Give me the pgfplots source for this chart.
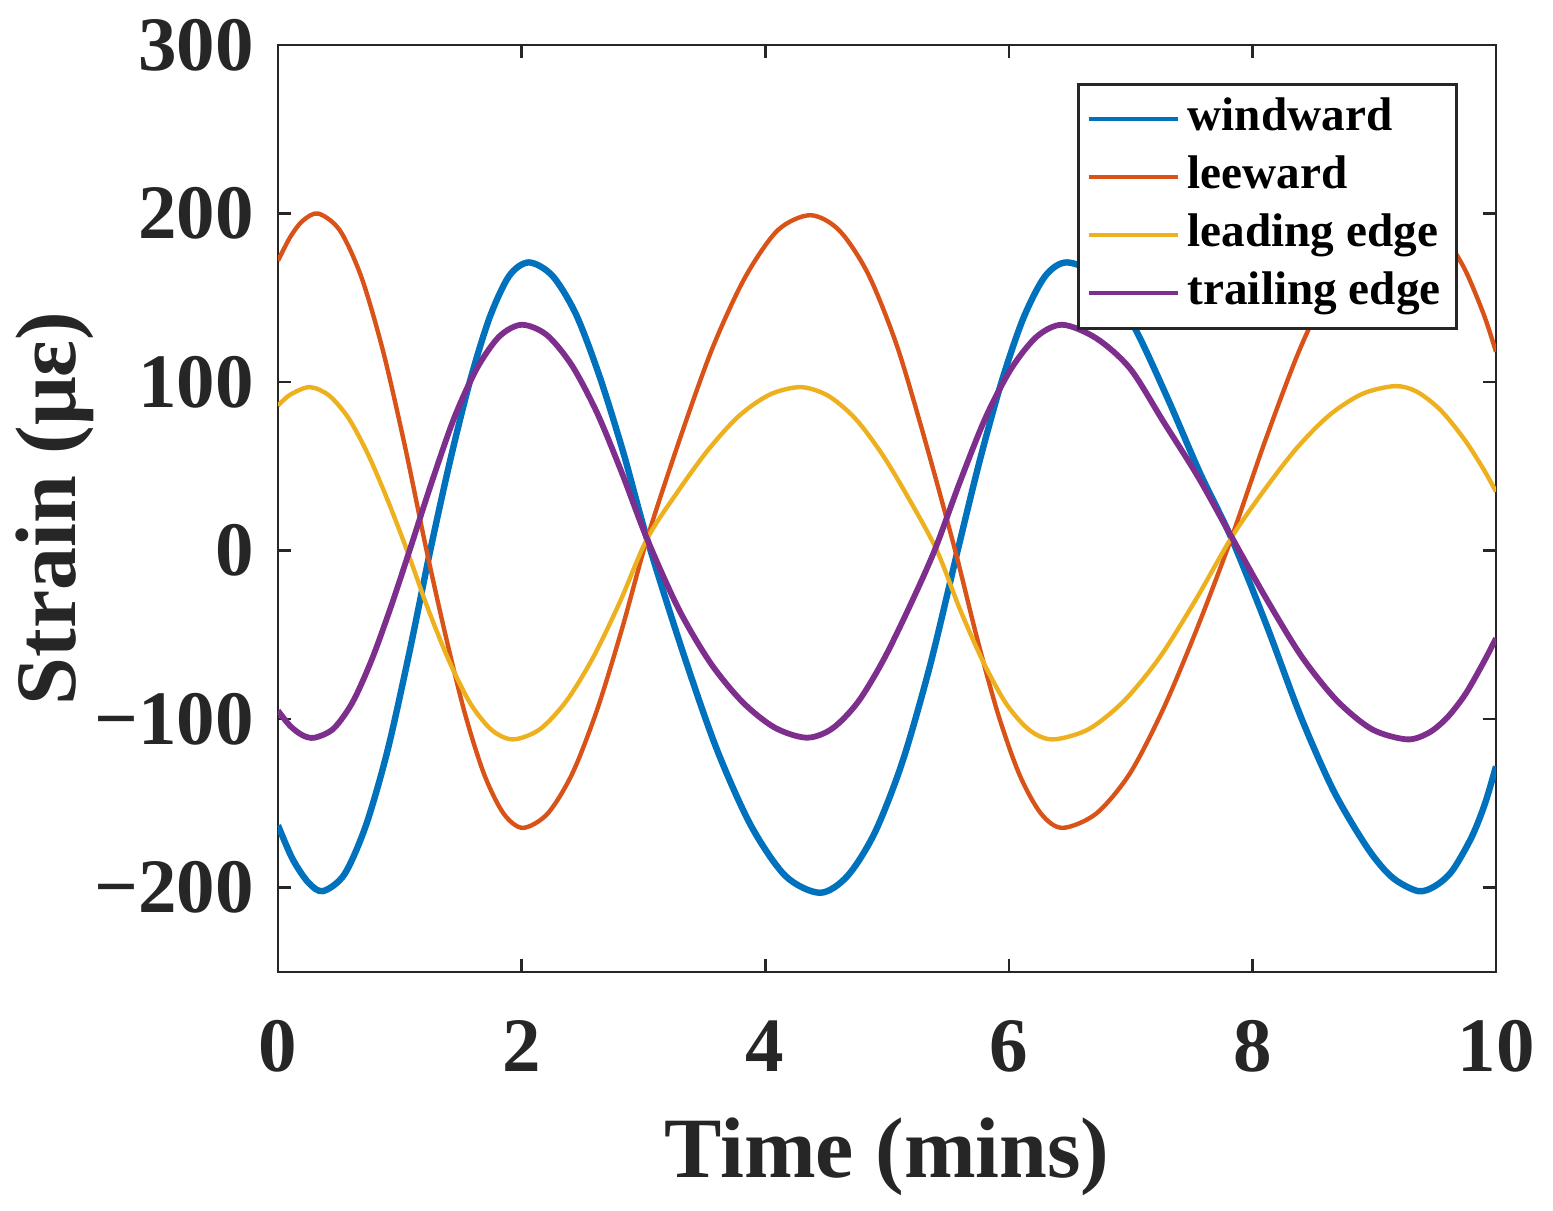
\documentclass[border=0pt]{standalone}
\usepackage{fontspec}
\setmainfont{Liberation Serif}
\usepackage{pgfplots}
\pgfplotsset{compat=1.18}
\definecolor{mblue}{rgb}{0,0.447,0.741}
\definecolor{morange}{rgb}{0.85,0.325,0.098}
\definecolor{myellow}{rgb}{0.929,0.694,0.125}
\definecolor{mpurple}{rgb}{0.494,0.184,0.556}
\definecolor{axgray}{rgb}{0.15,0.15,0.15}

\pgfplotstableread{
t v
0 -163
0.12 -183
0.25 -197
0.37 -202
0.546 -192
0.722 -163
0.898 -119
1.074 -62
1.25 0
1.412 53
1.574 100
1.736 138
1.898 163
2.06 171
2.254 163
2.448 140
2.642 103
2.836 58
3.03 7
3.314 -58
3.598 -117
3.882 -163
4.166 -193
4.45 -203
4.676 -193
4.902 -167
5.128 -125
5.354 -68
5.58 0
5.76 53
5.94 100
6.12 138
6.30 163
6.48 171
6.75 162
7.02 134
7.30 91
7.57 46
7.83 7
8.12 -45
8.40 -99
8.67 -143
8.95 -177
9.15 -194
9.36 -202
9.50 -199
9.64 -190
9.80 -170
9.91 -150
10 -128
}\windward

\pgfplotstableread{
t v
0 172
0.1 186
0.2 195.5
0.33 200
0.508 190
0.686 162
0.864 118
1.042 62
1.22 0
1.378 -51
1.536 -97
1.694 -133
1.852 -156
2.01 -164.5
2.214 -156
2.418 -132
2.622 -94
2.826 -46
3.03 7
3.298 66
3.566 120
3.834 162
4.102 190
4.37 199
4.608 190
4.846 164
5.084 121
5.322 63
5.56 0
5.736 -51
5.912 -97
6.088 -133
6.264 -156
6.44 -164.5
6.718 -156
6.996 -132
7.274 -93
7.552 -45
7.83 8
8.114 67
8.398 121
8.682 163
8.966 191
9.25 200
9.45 196
9.6 184
9.75 166
9.9 140
10 118
}\leeward

\pgfplotstableread{
t v
0 86
0.1 92.5
0.26 97
0.42 92
0.58 78.5
0.74 57
0.90 30
1.06 0
1.234 -35
1.408 -66
1.582 -91
1.756 -106.5
1.93 -112
2.15 -106
2.37 -89
2.59 -63
2.81 -30
3.03 7
3.282 35
3.534 60
3.786 80
4.038 92.6
4.29 97
4.514 92
4.738 78.5
4.962 57
5.186 30
5.41 0
5.60 -35
5.79 -66
5.98 -91
6.17 -106.5
6.36 -112
6.654 -106
6.948 -89
7.242 -63
7.536 -29
7.83 8
8.098 36
8.366 61
8.634 80.5
8.902 93
9.17 97.6
9.35 94.3
9.55 83
9.75 65
9.9 48
10 35
}\leading

\pgfplotstableread{
t v
0 -95
0.1 -104
0.2 -109.5
0.30 -111
0.456 -105.6
0.612 -90
0.768 -65
0.924 -34
1.08 0
1.264 41
1.448 79
1.632 108
1.816 127
2.0 134
2.206 128
2.412 110
2.618 82
2.824 46
3.03 7
3.292 -35
3.554 -67
3.816 -90
4.078 -105
4.34 -111
4.55 -105.6
4.76 -90
4.97 -65
5.18 -34
5.39 0
5.60 41
5.81 79
6.02 108
6.23 127
6.44 134
6.718 126
6.996 108
7.274 76
7.552 44
7.83 8
8.118 -29
8.406 -63
8.694 -89
8.982 -106
9.27 -112
9.45 -108
9.6 -99
9.75 -85
9.9 -66
10 -52
}\trailing

\begin{document}
\begin{tikzpicture}
\begin{axis}[
  scale only axis,
  width=609pt, height=463.5pt,
  xmin=0, xmax=10, ymin=-250, ymax=300,
  xtick={0,2,4,6,8,10},
  xticklabels={0,2,4,6,8,10},
  ytick={-200,-100,0,100,200,300},
  yticklabels={−200,−100,0,100,200,300},
  tick align=inside,
  major tick length=6.5pt,
  axis line style={axgray, line width=1.3pt},
  every tick/.style={axgray, line width=1.3pt},
  tick label style={font=\fontsize{38.5}{40}\selectfont\bfseries, text=axgray},
  xticklabel style={anchor=base, yshift=-50pt},
  yticklabel style={anchor=east, xshift=-8.5pt},
  xlabel={Time (mins)},
  ylabel={Strain (με)},
  label style={font=\fontsize{43}{46}\selectfont\bfseries, text=axgray},
  xlabel style={at={([yshift=-103pt]rel axis cs:0.5,0)}, anchor=base},
  ylabel style={at={([xshift=-111.5pt]rel axis cs:0,0.5)}, anchor=center},
  legend style={at={(0.9688,0.959)}, anchor=north east, draw=axgray, line width=1.3pt,
    fill=white, font=\fontsize{23.6}{25}\selectfont\bfseries,
    inner xsep=4pt, inner ysep=3pt, row sep=0pt,
    nodes={inner sep=4pt, text height=16pt, text depth=5pt}},
  legend cell align=left,
  legend image code/.code={\draw[#1, line width=2pt] (0pt,0pt) -- (44.5pt,0pt);},
]
\addplot[mblue, line width=3.2pt, smooth] table[x=t,y=v] {\windward};
\addlegendentry{windward}
\addplot[morange, line width=2.2pt, smooth] table[x=t,y=v] {\leeward};
\addlegendentry{leeward}
\addplot[myellow, line width=2.2pt, smooth] table[x=t,y=v] {\leading};
\addlegendentry{leading edge}
\addplot[mpurple, line width=2.9pt, smooth] table[x=t,y=v] {\trailing};
\addlegendentry{trailing edge}
\coordinate (bl) at (rel axis cs:0,0);
\coordinate (tr) at (rel axis cs:1,1);
\end{axis}
\pgfresetboundingbox
\path ([xshift=-139pt,yshift=-119.5pt]bl) rectangle ([xshift=28.5pt,yshift=22.5pt]tr);
\end{tikzpicture}
\end{document}
